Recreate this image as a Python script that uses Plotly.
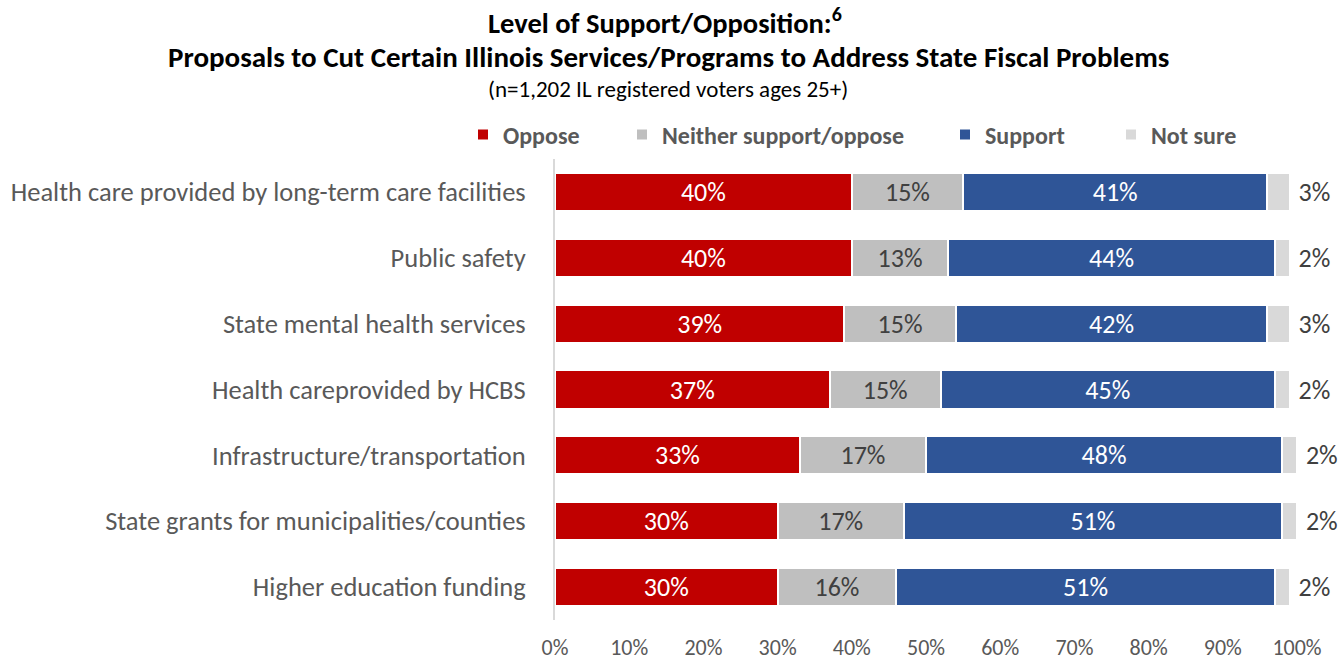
import plotly.graph_objects as go

categories = [
    "Health care provided by long-term care facilities",
    "Public safety",
    "State mental health services",
    "Health careprovided by HCBS",
    "Infrastructure/transportation",
    "State grants for municipalities/counties",
    "Higher education funding",
]
oppose = [40, 40, 39, 37, 33, 30, 30]
neither = [15, 13, 15, 15, 17, 17, 16]
support = [41, 44, 42, 45, 48, 51, 51]
not_sure = [3, 2, 3, 2, 2, 2, 2]

series_names = ["Oppose", "Neither support/oppose", "Support", "Not sure"]
series_values = [oppose, neither, support, not_sure]
colors = ["#C00000", "#BFBFBF", "#2F5597", "#D9D9D9"]
text_colors = ["white", "#404040", "white", "#404040"]
tick_vals = list(range(0, 101, 10))
tick_text = [f"{v}%" for v in tick_vals]

FONT = "Carlito, Lato, sans-serif"

# layout geometry (pixels)
W, H = 1341, 661
L, R, T, B = 555, 44, 159, 41
plot_h = H - T - B
plot_w = W - L - R


def py(pix):
    return (H - B - pix) / plot_h


def px(pix):
    return (pix - L) / plot_w


fig = go.Figure()
legend_ids = ["legend", "legend2", "legend3", "legend4"]
legend_x = [477, 636, 959, 1125]
for i, (name, vals) in enumerate(zip(series_names, series_values)):
    outside = name == "Not sure"
    fig.add_trace(go.Bar(
        y=categories, x=vals, name=name, orientation="h",
        marker=dict(color=colors[i], line=dict(color="white", width=2)),
        text=[(f"\u00a0{v}%" if outside else f"{v}%") for v in vals],
        textposition="outside" if outside else "inside",
        insidetextanchor="middle",
        textfont=dict(family=FONT, size=26, color=text_colors[i]),
        outsidetextfont=dict(family=FONT, size=26, color="#404040"),
        cliponaxis=False,
        legend=legend_ids[i],
        hoverinfo="x+y+name",
    ))

layout_legends = {}
for i, lid in enumerate(legend_ids):
    layout_legends[lid] = dict(
        x=px(legend_x[i] - 14), y=py(135), xanchor="left", yanchor="middle",
        orientation="h", bgcolor="rgba(0,0,0,0)",
        font=dict(family=FONT, size=24, color="#595959", weight="bold"),
        itemclick=False, itemdoubleclick=False,
    )

fig.update_layout(
    width=W, height=H,
    margin=dict(l=L, r=R, t=T, b=B, autoexpand=False),
    barmode="stack", bargap=0.42,
    plot_bgcolor="white", paper_bgcolor="white",
    font=dict(family=FONT, color="#595959"),
    showlegend=True,
    uniformtext=dict(minsize=26, mode="show"),
    **layout_legends,
    xaxis=dict(range=[0, 100], tickvals=tick_vals, ticktext=tick_text,
               showgrid=False, zeroline=False, showline=False,
               tickfont=dict(family=FONT, size=22, color="#595959"),
               ticklabelstandoff=12, fixedrange=True, automargin=False),
    yaxis=dict(autorange="reversed", showgrid=False, zeroline=False,
               showline=True, linecolor="#D9D9D9", linewidth=2,
               tickfont=dict(family=FONT, size=26.5, color="#595959"),
               ticklabelstandoff=22, fixedrange=True, automargin=False),
    annotations=[
        dict(text="<b>Level of Support/Opposition:<sup>6</sup></b>", x=px(665), xref="paper",
             xanchor="center", y=py(21), yref="paper", yanchor="middle",
             showarrow=False, font=dict(family=FONT, size=28.5, color="black")),
        dict(text="<b>Proposals to Cut Certain Illinois Services/Programs to Address State Fiscal Problems</b>",
             x=px(668), xref="paper", xanchor="center", y=py(57), yref="paper",
             yanchor="middle", showarrow=False,
             font=dict(family=FONT, size=29, color="black")),
        dict(text="(n=1,202 IL registered voters ages 25+)", x=px(668), xref="paper",
             xanchor="center", y=py(89), yref="paper", yanchor="middle",
             showarrow=False, font=dict(family=FONT, size=23, color="black")),
    ],
)

fig.write_html("out.html", config={"displayModeBar": False},
               post_script="document.body.style.margin='0';")
